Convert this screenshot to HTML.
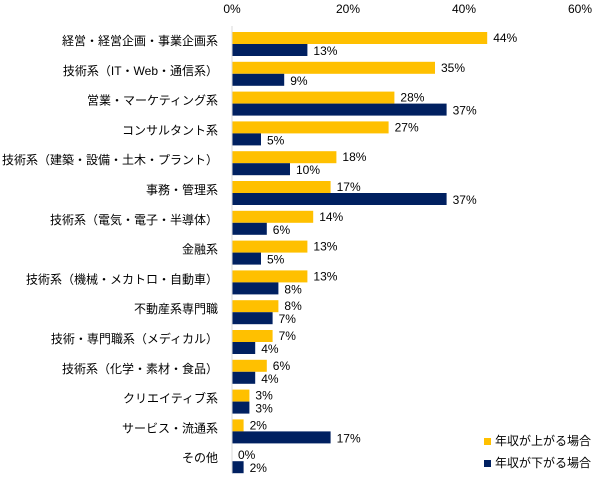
<!DOCTYPE html>
<html><head><meta charset="utf-8"><style>
body{margin:0;background:#fff;}
svg text{font-family:"Liberation Sans","Noto Sans CJK JP",sans-serif;font-size:12px;fill:#000;}
</style></head><body>
<svg id="c" width="603" height="486"></svg>
<script>
const categories=["経営・経営企画・事業企画系","技術系（IT・Web・通信系）","営業・マーケティング系","コンサルタント系","技術系（建築・設備・土木・プラント）","事務・管理系","技術系（電気・電子・半導体）","金融系","技術系（機械・メカトロ・自動車）","不動産系専門職","技術・専門職系（メディカル）","技術系（化学・素材・食品）","クリエイティブ系","サービス・流通系","その他"];
const upValues=[44,35,28,27,18,17,14,13,13,8,7,6,3,2,0];
const downValues=[13,9,37,5,10,37,6,5,8,7,4,4,3,17,2];
const tickValues=[0,20,40,60];
const seriesNames=["年収が上がる場合","年収が下がる場合"];
const svg=document.getElementById('c');
const NS='http://www.w3.org/2000/svg';
const x0=232,pxPer=5.8,top0=26,band=29.8;
const xs=v=>x0+v*pxPer;
function mk(t,a,txt){const e=document.createElementNS(NS,t);for(const k in a)e.setAttribute(k,a[k]);if(txt!=null)e.textContent=txt;svg.appendChild(e);return e;}
tickValues.forEach(v=>{const e=mk('text',{x:xs(v),y:13,'text-anchor':'middle'},v+'%');

});
categories.forEach((c,i)=>{const y=top0+i*band;
const l=mk('text',{x:218,y:y+19,'text-anchor':'end'},c);


const b1=mk('rect',{x:x0,y:y+6,width:upValues[i]*pxPer,height:12,fill:'#FFC000'});


const b2=mk('rect',{x:x0,y:y+18,width:downValues[i]*pxPer,height:12,fill:'#002060'});


const t1=mk('text',{x:xs(upValues[i])+6,y:y+16},upValues[i]+'%');


const t2=mk('text',{x:xs(downValues[i])+6,y:y+29},downValues[i]+'%');

});
const ax=mk('line',{x1:x0,y1:top0,x2:x0,y2:top0+band*categories.length,stroke:'#d9d9d9','stroke-width':1});


[['#FFC000',441],['#002060',463]].forEach((s,i)=>{
const r=mk('rect',{x:484,y:s[1]-3,width:7,height:7,fill:s[0]});


const t=mk('text',{x:495,y:s[1]+4},seriesNames[i]);

});
</script>
</body></html>
